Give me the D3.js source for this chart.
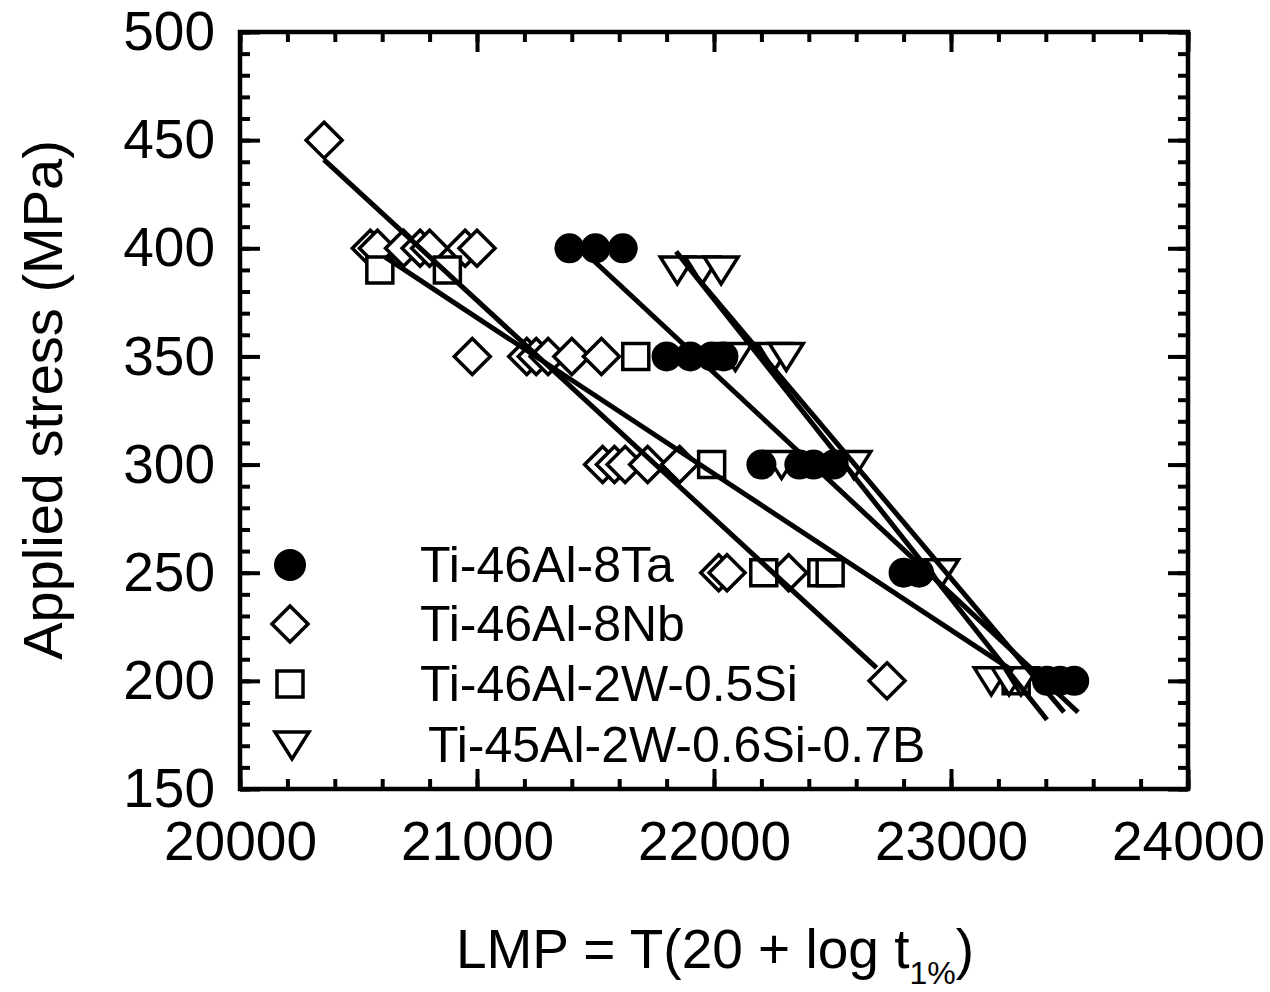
<!DOCTYPE html>
<html>
<head>
<meta charset="utf-8">
<script src="https://cdn.jsdelivr.net/npm/d3@7"></script>
<style>
  html, body { margin: 0; padding: 0; background: #fff; }
  svg { display: block; font-family: "Liberation Sans", Arial, Helvetica, sans-serif; }
</style>
</head>
<body>
<svg id="chart" width="1270" height="992"></svg>
<script>
// Ti-46Al-8Ta (filled circles)
const taLMP    = [21390, 21500, 21615, 21800, 21900, 21990, 22040, 22200, 22360, 22420, 22505, 22800, 22865, 23405, 23460, 23520];
const taStress = [400, 400, 400, 350, 350, 350, 350, 300, 300, 300, 300, 250, 250, 200, 200, 200];

// Ti-46Al-8Nb (open diamonds)
const nbLMP    = [20355, 20550, 20580, 20690, 20760, 20800, 20950, 21000, 20980, 21210, 21250, 21300, 21400, 21525, 21530, 21580, 21625, 21720, 21855, 22020, 22055, 22315, 22730];
const nbStress = [450, 400, 400, 400, 400, 400, 400, 400, 350, 350, 350, 350, 350, 350, 300, 300, 300, 300, 300, 250, 250, 250, 200];

// Ti-46Al-2W-0.5Si (open squares)
const wsiLMP    = [20590, 20875, 21670, 21990, 22210, 22455, 22490, 23275];
const wsiStress = [390, 390, 350, 300, 250, 250, 250, 200];

// Ti-45Al-2W-0.6Si-0.7B (open down-triangles)
const wsibLMP    = [21845, 21950, 22030, 22090, 22255, 22305, 22285, 22590, 22960, 23170, 23245, 23295];
const wsibStress = [390, 390, 390, 350, 350, 350, 300, 300, 250, 200, 200, 200];

// Fitted stress-LMP lines, [start, end] for each alloy
const fitNbLMP       = [20354, 22686];
const fitNbStress    = [441, 206];
const fitWsiLMP      = [20611, 23263];
const fitWsiStress   = [396, 204.5];
const fitTaLMP       = [21495, 23536];
const fitTaStress    = [394, 185.5];
const fitWsibLMP     = [21840, 23405];
const fitWsibStress  = [398.5, 182];
const fitWsib2LMP    = [21928, 23477];
const fitWsib2Stress = [386.5, 185.5];

const legendLabels = ["Ti-46Al-8Ta", "Ti-46Al-8Nb", "Ti-46Al-2W-0.5Si", "Ti-45Al-2W-0.6Si-0.7B"];

const xMajor = [20000, 21000, 22000, 23000, 24000];
const yMajor = [150, 200, 250, 300, 350, 400, 450, 500];

const svg = d3.select("#chart");
const x = d3.scaleLinear().domain([20000, 24000]).range([240, 1188]);
const y = d3.scaleLinear().domain([150, 500]).range([789, 32]);

const xMinor = d3.range(20000, 24001, 200);
const yMinor = d3.range(150, 501, 10);

const tickFont = 55;

// Inward ticks on all four sides
function styleAxis(g) {
  g.select(".domain").remove();
  g.selectAll(".tick line").attr("stroke", "#000").attr("stroke-width", 4);
}

svg.append("g").attr("transform", `translate(0,${y(150)})`)
  .call(d3.axisBottom(x).tickValues(xMinor).tickSize(-10).tickFormat(""))
  .call(styleAxis);
svg.append("g").attr("transform", `translate(0,${y(150)})`)
  .call(d3.axisBottom(x).tickValues(xMajor).tickSize(-20).tickPadding(32).tickFormat(d3.format("d")))
  .call(styleAxis)
  .call(g => g.selectAll("text").attr("font-size", tickFont).attr("fill", "#000").attr("font-family", "Liberation Sans, Arial, sans-serif"));
svg.append("g").attr("transform", `translate(0,${y(500)})`)
  .call(d3.axisTop(x).tickValues(xMinor).tickSize(-10).tickFormat(""))
  .call(styleAxis);
svg.append("g").attr("transform", `translate(0,${y(500)})`)
  .call(d3.axisTop(x).tickValues(xMajor).tickSize(-20).tickFormat(""))
  .call(styleAxis);

svg.append("g").attr("transform", `translate(${x(20000)},0)`)
  .call(d3.axisLeft(y).tickValues(yMinor).tickSize(-10).tickFormat(""))
  .call(styleAxis);
svg.append("g").attr("transform", `translate(${x(20000)},0)`)
  .call(d3.axisLeft(y).tickValues(yMajor).tickSize(-20).tickPadding(25).tickFormat(d3.format("d")))
  .call(styleAxis)
  .call(g => g.selectAll("text").attr("font-size", tickFont).attr("fill", "#000").attr("font-family", "Liberation Sans, Arial, sans-serif"));
svg.append("g").attr("transform", `translate(${x(24000)},0)`)
  .call(d3.axisRight(y).tickValues(yMinor).tickSize(-10).tickFormat(""))
  .call(styleAxis);
svg.append("g").attr("transform", `translate(${x(24000)},0)`)
  .call(d3.axisRight(y).tickValues(yMajor).tickSize(-20).tickFormat(""))
  .call(styleAxis);

// Plot frame
svg.append("rect")
  .attr("x", x(20000)).attr("y", y(500))
  .attr("width", x(24000) - x(20000)).attr("height", y(150) - y(500))
  .attr("fill", "none").attr("stroke", "#000").attr("stroke-width", 4.5);

// Marker shapes
const diamondPath = "M0,-18L18,0L0,18L-18,0Z";
const squarePath = "M-13,-13H13V13H-13Z";
const triPath = "M-17,-13H17L0,14Z";

function drawOpen(lmp, stress, path) {
  svg.append("g").selectAll("path")
    .data(lmp.map((v, i) => [v, stress[i]]))
    .join("path")
    .attr("d", path)
    .attr("transform", d => `translate(${x(d[0])},${y(d[1])})`)
    .attr("fill", "#fff")
    .attr("stroke", "#000")
    .attr("stroke-width", 3.5);
}

drawOpen(nbLMP, nbStress, diamondPath);
drawOpen(wsiLMP, wsiStress, squarePath);
drawOpen(wsibLMP, wsibStress, triPath);

svg.append("g").selectAll("circle")
  .data(taLMP.map((v, i) => [v, taStress[i]]))
  .join("circle")
  .attr("cx", d => x(d[0])).attr("cy", d => y(d[1]))
  .attr("r", 15).attr("fill", "#000");

// Fit lines
const fits = [
  [fitNbLMP, fitNbStress],
  [fitWsiLMP, fitWsiStress],
  [fitTaLMP, fitTaStress],
  [fitWsibLMP, fitWsibStress],
  [fitWsib2LMP, fitWsib2Stress]
];
const line = d3.line().x(d => x(d[0])).y(d => y(d[1]));
svg.append("g").selectAll("path")
  .data(fits.map(f => f[0].map((v, i) => [v, f[1][i]])))
  .join("path")
  .attr("d", line)
  .attr("fill", "none").attr("stroke", "#000").attr("stroke-width", 5);

// Legend
const legend = svg.append("g");
const legY = [565, 624, 684, 745];
const legX = [290, 290, 290, 292];
legend.append("circle").attr("cx", legX[0]).attr("cy", legY[0]).attr("r", 16).attr("fill", "#000");
legend.append("path").attr("d", diamondPath).attr("transform", `translate(${legX[1]},${legY[1]})`)
  .attr("fill", "#fff").attr("stroke", "#000").attr("stroke-width", 3.5);
legend.append("path").attr("d", squarePath).attr("transform", `translate(${legX[2]},${legY[2]})`)
  .attr("fill", "#fff").attr("stroke", "#000").attr("stroke-width", 3.5);
legend.append("path").attr("d", triPath).attr("transform", `translate(${legX[3]},${legY[3]})`)
  .attr("fill", "#fff").attr("stroke", "#000").attr("stroke-width", 3.5);
const legTextX = [420, 420, 420, 428];
legend.selectAll("text")
  .data(legendLabels)
  .join("text")
  .attr("x", (d, i) => legTextX[i])
  .attr("y", (d, i) => legY[i] + 17)
  .attr("font-size", 50)
  .attr("fill", "#000")
  .text(d => d);

// Axis titles
svg.append("text")
  .attr("transform", "translate(62,400) rotate(-90)")
  .attr("text-anchor", "middle")
  .attr("font-size", 56)
  .attr("fill", "#000")
  .text("Applied stress (MPa)");

const xt = svg.append("text")
  .attr("x", 715).attr("y", 968)
  .attr("text-anchor", "middle")
  .attr("font-size", 55)
  .attr("fill", "#000");
xt.append("tspan").text("LMP = T(20 + log t");
xt.append("tspan").attr("font-size", 32).attr("dy", 16).text("1%");
xt.append("tspan").attr("dy", -16).text(")");
</script>
</body>
</html>
